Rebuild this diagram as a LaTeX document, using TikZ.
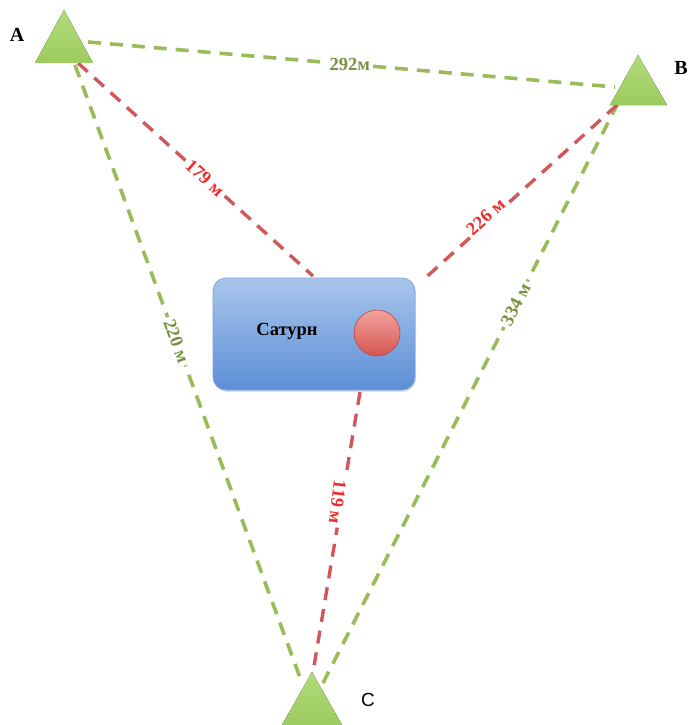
\documentclass[tikz,border=0pt]{standalone}
\usepackage{fontspec}
\setmainfont{Liberation Serif}
\setsansfont{Liberation Sans}
\usetikzlibrary{shadows}
\definecolor{lgreen}{HTML}{9BBB59}
\definecolor{tgreen}{HTML}{76923C}
\definecolor{lred}{HTML}{D0585A}
\definecolor{tred}{HTML}{EE2A2A}
\definecolor{trifill}{HTML}{9CCB5E}
\definecolor{trilight}{HTML}{B2DB7A}
\definecolor{boxtop}{HTML}{A9C5EC}
\definecolor{boxbot}{HTML}{5C8FD6}
\definecolor{boxline}{HTML}{7EA3DA}
\definecolor{balltop}{HTML}{F3A39D}
\definecolor{ballbot}{HTML}{D65550}
\tikzset{
  greenlink/.style={draw=lgreen, line width=3.6pt, dash pattern=on 13pt off 9pt},
  redlink/.style={draw=lred, line width=3.4pt, dash pattern=on 13pt off 9pt},
  glabel/.style={fill=white, text=tgreen, font=\fontsize{18.5}{20}\selectfont\bfseries, inner sep=3pt},
  rlabel/.style={fill=white, text=tred, font=\fontsize{18.5}{20}\selectfont\bfseries, inner sep=3pt},
  station/.style={top color=trilight, bottom color=trifill, draw=none},
  cornerlabel/.style={font=\fontsize{20}{22}\selectfont\bfseries, text=black},
}
\begin{document}
\begin{tikzpicture}[x=1pt, y=-1pt]
\useasboundingbox (0,0) rectangle (688,725);

% connector end points at the stations and the box
\coordinate (aR) at (88,42);
\coordinate (aD) at (75,65);
\coordinate (aS) at (78,63);
\coordinate (bL) at (615,87);
\coordinate (bD) at (618,103);
\coordinate (bS) at (617,105);
\coordinate (cL) at (302,683);
\coordinate (cR) at (323,683);
\coordinate (cS) at (313,672);

% the Saturn block
\node[draw=boxline, line width=0.8pt, rounded corners=13pt,
      top color=boxtop, bottom color=boxbot,
      drop shadow={opacity=0.25, shadow xshift=1pt, shadow yshift=-2pt},
      minimum width=202pt, minimum height=112pt] (sat) at (314,334) {};
\node[font=\fontsize{18.5}{20}\selectfont\bfseries] (satname) at (287,331) {Сатурн};
\node[circle, draw=ballbot!85!black, line width=0.6pt, minimum size=46pt,
      top color=balltop, bottom color=ballbot] (ball) at (377,333) {};

\coordinate (sTop) at (313,276);
\coordinate (sTR) at (423,280);
\coordinate (sBot) at (360,392);

% baselines between stations
\draw[greenlink] (aR) -- node[glabel, pos=0.497] (lAB) {292м} (bL);
\draw[greenlink] (aD) -- node[glabel, pos=0.447, rotate=-69.8] (lAC) {220 м} (cL);
\draw[greenlink] (bD) -- node[glabel, pos=0.347, rotate=63] (lBC) {334 м} (cR);

% distances to Saturn
\draw[redlink] (aS) -- node[rlabel, pos=0.54, rotate=-42] (lAS) {179 м} (sTop);
\draw[redlink] (bS) -- node[rlabel, pos=0.66, rotate=42, yshift=5pt] (lBS) {226 м} (sTR);
\draw[redlink] (sBot) -- node[rlabel, pos=0.396, rotate=-97, yshift=-4pt] (lSC) {119 м} (cS);

% stations
\fill[station] (64,10) -- (93,63) -- (35,63) -- cycle;
\fill[station] (638,55) -- (667,105) -- (610,105) -- cycle;
\fill[station] (312,672) -- (342,725) -- (282,725) -- cycle;

\node[cornerlabel] (nA) at (17,35) {A};
\node[cornerlabel] (nB) at (681,68) {B};
\node[cornerlabel, font=\fontsize{19}{21}\selectfont\sffamily] (nC) at (368,700) {C};
\end{tikzpicture}
\end{document}
